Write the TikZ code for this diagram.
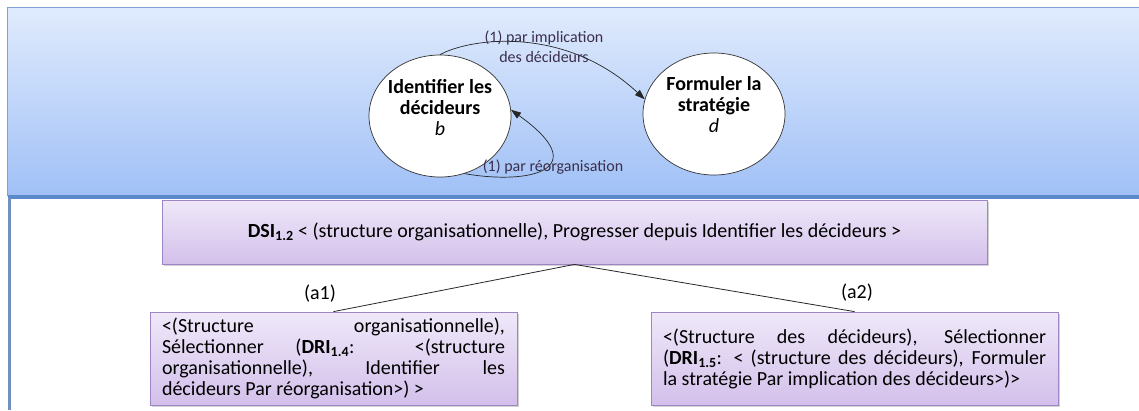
\documentclass[tikz,border=0pt]{standalone}
\usepackage{fontspec}
\setmainfont{Carlito}
\usepackage{xcolor}
\usetikzlibrary{arrows.meta,shapes.geometric,shadows}

\definecolor{panelTop}{HTML}{E0EBFD}
\definecolor{panelBottom}{HTML}{A0C0F6}
\definecolor{panelLine}{HTML}{7CA1D2}
\definecolor{panelDark}{HTML}{5A8BC8}
\definecolor{boxTop}{HTML}{EFE8F9}
\definecolor{boxBottom}{HTML}{D3C0EB}
\definecolor{boxLine}{HTML}{9D86C6}
\definecolor{edgeText}{HTML}{3B2F4C}

\begin{document}
\begin{tikzpicture}[
  x=1pt,
  y=-1pt,
  state/.style={ellipse, draw=black!80, fill=white, line width=0.7pt, minimum width=142, minimum height=122, inner sep=0pt},
  statetext/.style={align=center, font=\fontsize{20}{21}\selectfont},
  edge/.style={draw=black!85, line width=0.7pt, -{Triangle[length=10pt,width=7pt]}},
  edgelabel/.style={text=edgeText, align=center, font=\fontsize{16}{20}\selectfont},
  dbox/.style={draw=boxLine, line width=0.8pt, top color=boxTop, bottom color=boxBottom, inner sep=0pt,
    drop shadow={shadow xshift=2pt, shadow yshift=-2pt, fill=black!35}},
  choice/.style={dbox, inner xsep=12pt, minimum height=93, align=justify,
    font=\fontsize{20}{21}\selectfont},
  link/.style={draw=black!85, line width=0.8pt},
  label/.style={font=\fontsize{20}{22}\selectfont}
]
  \useasboundingbox (0,0) rectangle (1139,410);

  \shade[top color=panelTop, bottom color=panelBottom] (7.5,7.5) rectangle (1139,196);
  \draw[panelLine, line width=1.5pt] (1139,7.5) -- (7.5,7.5) -- (7.5,196);
  \draw[panelDark, line width=4pt] (7.5,196.5) -- (1139,196.5);
  \draw[panelLine!90!black, line width=3pt] (9.5,198) -- (9.5,410);

  \node[state] (b) at (440,116) {};
  \node[statetext] (bt) at (440,108) {\textbf{Identifier les}\\\textbf{décideurs}\\\textit{b}};
  \node[state] (d) at (714,114) {};
  \node[statetext] (dt) at (714,105) {\textbf{Formuler la}\\\textbf{stratégie}\\\textit{d}};

  \draw[edge] (b.north) .. controls (470,38) and (565,25) .. (d.168);
  \draw[edge] (b.293) .. controls (530,185) and (595,170) .. (b.5);

  \node[edgelabel] (impl) at (544,47) {(1) par implication\\des décideurs};
  \node[edgelabel] (reorg) at (553,167) {(1) par réorganisation};

  \node[dbox, minimum width=825, minimum height=64, font=\fontsize{20}{22}\selectfont] (dsi) at (574.5,232)
    {\textbf{DSI}\textsubscript{\textbf{1.2}} < (structure organisationnelle), Progresser depuis Identifier les décideurs >};

  \node[choice, text width=343] (a1box) at (333.5,358.5)
    {<(Structure organisationnelle),\linebreak Sélectionner (\textbf{DRI}\textsubscript{\textbf{1.4}}: <(structure\linebreak organisationnelle), Identifier les\linebreak décideurs Par réorganisation>) >};
  \node[choice, text width=383] (a2box) at (854.5,358.5)
    {<(Structure des décideurs), Sélectionner\linebreak (\textbf{DRI}\textsubscript{\textbf{1.5}}: < (structure des décideurs), Formuler\linebreak la stratégie Par implication des décideurs>)>};

  \draw[link] (dsi.south) -- (a1box.north);
  \draw[link] (dsi.south) -- (a2box.north);

  \node[label] (a1) at (320,294) {(a1)};
  \node[label] (a2) at (857,293) {(a2)};
\end{tikzpicture}
\end{document}
